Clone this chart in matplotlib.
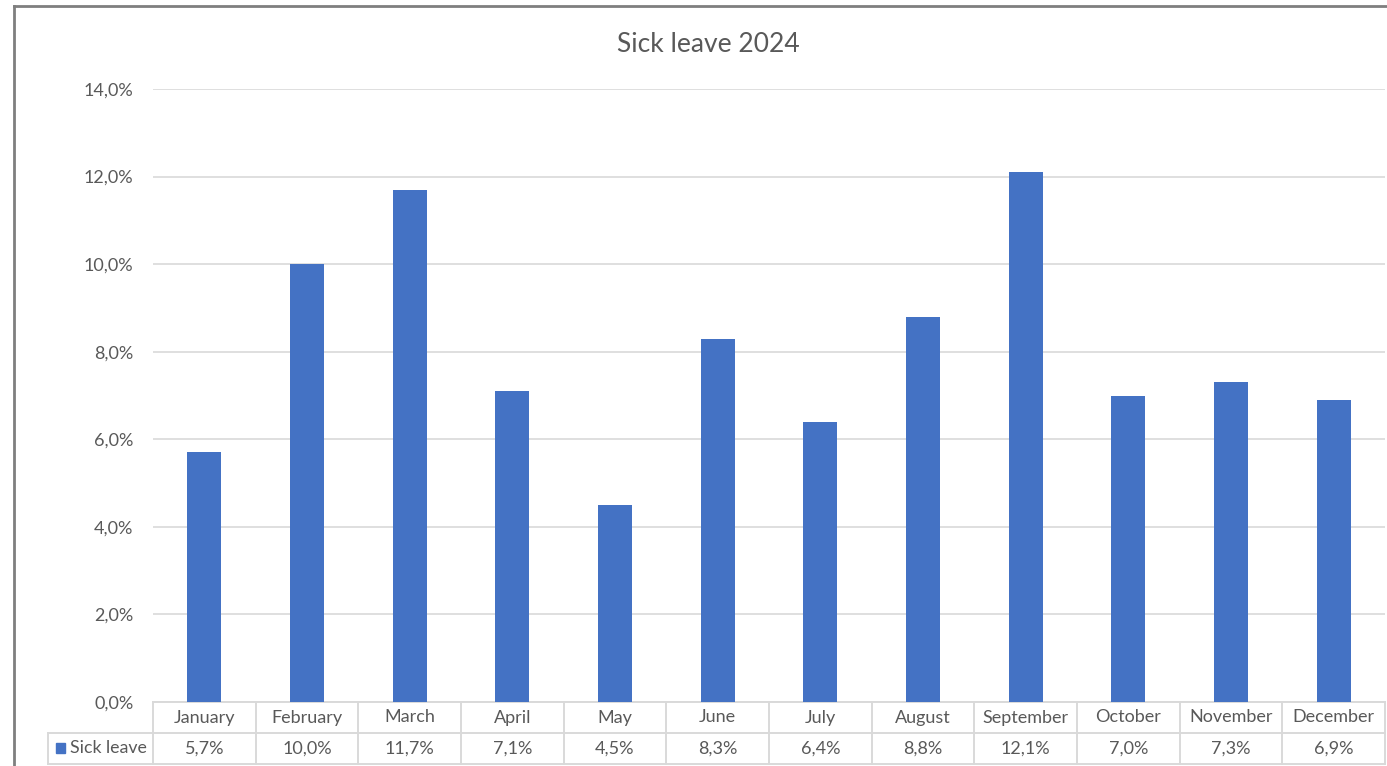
import matplotlib
matplotlib.use("Agg")
import matplotlib.pyplot as plt
from matplotlib.transforms import blended_transform_factory
from matplotlib.lines import Line2D
from matplotlib.patches import Rectangle

months = ["January", "February", "March", "April", "May", "June", "July",
          "August", "September", "October", "November", "December"]
sick_leave = [5.7, 10.0, 11.7, 7.1, 4.5, 8.3, 6.4, 8.8, 12.1, 7.0, 7.3, 6.9]
series_name = "Sick leave"
title = "Sick leave 2024"
yticks = [0, 2, 4, 6, 8, 10, 12, 14]

plt.rcParams['font.family'] = ['Lato', 'DejaVu Sans']
W, H = 1387, 766
fig = plt.figure(figsize=(W / 100, H / 100), dpi=100)
fig.patch.set_facecolor("white")

def fx(px):
    return px / W

def fy(py):
    return 1 - py / H

ax = fig.add_axes([fx(153), fy(702), fx(1385) - fx(153), fy(89) - fy(702)])
x = list(range(len(months)))
ax.bar(x, sick_leave, width=0.33, color="#4472C4", zorder=3)
ax.set_xlim(-0.5, len(months) - 0.5)
ax.set_ylim(0, 14)
ax.set_yticks(yticks)
ax.set_yticklabels([f"{v:.1f}%".replace(".", ",") for v in yticks],
                   fontsize=13, color="#595959")
ax.tick_params(axis="y", length=0, pad=14)
ax.set_xticks([])
ax.grid(axis="y", color="#d9d9d9", linewidth=1.2, zorder=0)
for s in ["top", "right", "left", "bottom"]:
    ax.spines[s].set_visible(False)

# data table below the axis
tr = blended_transform_factory(ax.transData, ax.transAxes)
row_h = 31 / 613
grid_c = "#d9d9d9"
label_left = -1.52
ax.add_line(Line2D([-0.5, 11.5], [0, 0], transform=tr, color=grid_c, lw=1.4, clip_on=False))
ax.add_line(Line2D([label_left, 11.5], [-row_h, -row_h], transform=tr, color=grid_c, lw=1.4, clip_on=False))
ax.add_line(Line2D([label_left, 11.5], [-2 * row_h, -2 * row_h], transform=tr, color=grid_c, lw=1.4, clip_on=False))
for i in range(len(months) + 1):
    xv = -0.5 + i
    ax.add_line(Line2D([xv, xv], [0, -2 * row_h], transform=tr, color=grid_c, lw=1.4, clip_on=False))
ax.add_line(Line2D([label_left, label_left], [-row_h, -2 * row_h], transform=tr, color=grid_c, lw=1.4, clip_on=False))

for i, (m, v) in enumerate(zip(months, sick_leave)):
    ax.text(i, -0.5 * row_h, m, transform=tr, ha="center", va="center",
            fontsize=13, color="#595959")
    ax.text(i, -1.5 * row_h, f"{v:.1f}%".replace(".", ","), transform=tr,
            ha="center", va="center", fontsize=13, color="#595959")

# legend key in table
fig.patches.append(Rectangle((fx(56), fy(753)), fx(9), fy(743) - fy(753),
                             transform=fig.transFigure, color="#4472C4"))
fig.text(fx(70), fy(748), series_name, ha="left", va="center",
         fontsize=12.8, color="#595959")

# title
fig.text(fx(708), fy(45), title, ha="center", va="center",
         fontsize=19, color="#595959")

# chart border (top and left)
fig.add_artist(Line2D([fx(14), 1], [fy(6), fy(6)], transform=fig.transFigure,
                      color="#7f7f7f", lw=2))
fig.add_artist(Line2D([fx(14), fx(14)], [fy(6), 0], transform=fig.transFigure,
                      color="#7f7f7f", lw=2))

fig.savefig("out.png", dpi=100, facecolor="white")
